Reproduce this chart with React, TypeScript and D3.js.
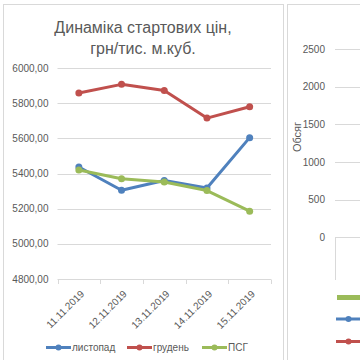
import React from "react";
import * as d3 from "d3";

const categories = ["11.11.2019", "12.11.2019", "13.11.2019", "14.11.2019", "15.11.2019"];
const listopad = [5437, 5305, 5360, 5318, 5604];
const gruden = [5858, 5907, 5872, 5715, 5780];
const psg = [5420, 5370, 5352, 5303, 5186];
const yTicks = [4800, 5000, 5200, 5400, 5600, 5800, 6000];
const rightTicks = [0, 500, 1000, 1500, 2000, 2500];
const seriesNames = ["листопад", "грудень", "ПСГ"];
const colors = ["#4F81BD", "#C0504D", "#9BBB59"];

const FONT = "'Liberation Sans', Arial, sans-serif";
const TXT = "#595959";
const GRID = "#d9d9d9";

export default function App() {
  const x = d3.scaleBand<string>().domain(categories).range([57.5, 271]);
  const y = d3.scaleLinear().domain([4800, 6000]).range([279, 68]);
  const yr = d3.scaleLinear().domain([0, 2500]).range([237.5, 49]);
  const line = d3
    .line<number>()
    .x((_, i) => (x(categories[i]) as number) + x.bandwidth() / 2)
    .y((d) => y(d));
  const series = [listopad, gruden, psg];
  const fmt = (v: number) => v.toFixed(2).replace(".", ",");
  const legendX = [46, 127, 202];

  return (
    <svg
      width={360}
      height={360}
      style={{ position: "fixed", left: 0, top: 0, background: "#fff" }}
      fontFamily={FONT}
    >
      <rect x={0} y={0} width={360} height={360} fill="#fff" />
      {/* panel borders */}
      <rect x={3.5} y={4.5} width={280} height={370} fill="none" stroke={GRID} />
      <rect x={287.5} y={4.5} width={100} height={370} fill="none" stroke={GRID} />

      {/* title */}
      <text x={143} y={33} textAnchor="middle" fontSize={16} fill={TXT}>
        Динаміка стартових цін,
      </text>
      <text x={143} y={54} textAnchor="middle" fontSize={16} fill={TXT}>
        грн/тис. м.куб.
      </text>

      {/* gridlines & y labels */}
      {yTicks.map((t) => (
        <g key={t}>
          {t !== 4800 && (
            <line x1={57.5} x2={271} y1={Math.round(y(t)) + 0.5} y2={Math.round(y(t)) + 0.5} stroke={GRID} />
          )}
          <text x={48.5} y={y(t) + 3.5} textAnchor="end" fontSize={10} fill={TXT}>
            {fmt(t)}
          </text>
        </g>
      ))}
      {/* x axis */}
      <line x1={57.5} x2={271} y1={279.5} y2={279.5} stroke={GRID} />
      {[...categories.map((c) => x(c) as number), 271].map((px, i) => (
        <line key={i} x1={Math.round(px) + 0.5} x2={Math.round(px) + 0.5} y1={279.5} y2={284} stroke={GRID} />
      ))}
      {categories.map((c) => {
        const cx = (x(c) as number) + x.bandwidth() / 2 + 6;
        const cy = 294.5;
        return (
          <text
            key={c}
            x={cx}
            y={cy}
            textAnchor="end"
            fontSize={10}
            fill={TXT}
            transform={`rotate(-45 ${cx} ${cy})`}
          >
            {c}
          </text>
        );
      })}

      {/* series */}
      {series.map((s, si) => (
        <g key={si}>
          <path d={line(s) as string} fill="none" stroke={colors[si]} strokeWidth={3} strokeLinejoin="round" />
          {s.map((v, i) => (
            <circle
              key={i}
              cx={(x(categories[i]) as number) + x.bandwidth() / 2}
              cy={y(v)}
              r={3.5}
              fill={colors[si]}
            />
          ))}
        </g>
      ))}

      {/* legend */}
      {seriesNames.map((n, i) => (
        <g key={n}>
          <line x1={legendX[i]} x2={legendX[i] + 25} y1={347.5} y2={347.5} stroke={colors[i]} strokeWidth={3} />
          <circle cx={legendX[i] + 12.5} cy={347.5} r={3} fill={colors[i]} />
          <text x={legendX[i] + 26} y={351} fontSize={10} fill={TXT}>
            {n}
          </text>
        </g>
      ))}

      {/* right panel */}
      {rightTicks.map((t) => (
        <g key={t}>
          {t !== 0 && (
            <line x1={335} x2={360} y1={Math.round(yr(t)) + 0.5} y2={Math.round(yr(t)) + 0.5} stroke={GRID} />
          )}
          <text x={325} y={yr(t) + 3.5} textAnchor="end" fontSize={10} fill={TXT}>
            {t}
          </text>
        </g>
      ))}
      <line x1={335} x2={360} y1={237.5} y2={237.5} stroke={GRID} />
      <line x1={335.5} x2={335.5} y1={237.5} y2={280} stroke={GRID} />
      <text
        x={301}
        y={137}
        textAnchor="middle"
        fontSize={11}
        fill={TXT}
        transform="rotate(-90 301 137)"
      >
        Обсяг
      </text>
      <rect x={337} y={295} width={30} height={5} fill={colors[2]} />
      <line x1={336} x2={365} y1={319} y2={319} stroke={colors[0]} strokeWidth={3} />
      <circle cx={348.5} cy={319} r={3} fill={colors[0]} />
      <line x1={336} x2={365} y1={341.5} y2={341.5} stroke={colors[1]} strokeWidth={3} />
      <circle cx={348.5} cy={341.5} r={3} fill={colors[1]} />
    </svg>
  );
}
